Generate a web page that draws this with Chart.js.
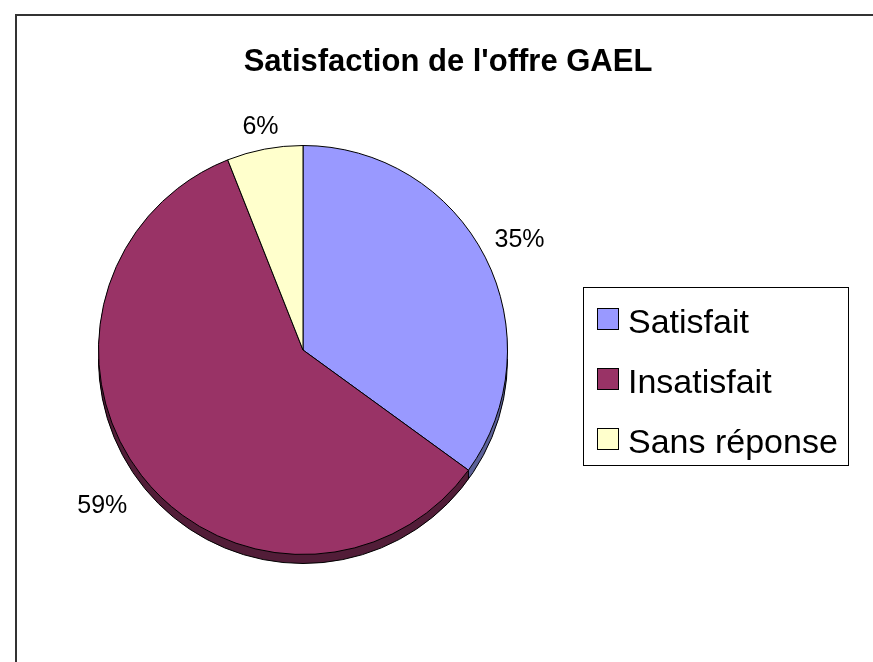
<!DOCTYPE html>
<html>
<head>
<meta charset="utf-8">
<script src="https://cdn.jsdelivr.net/npm/chart.js@4/dist/chart.umd.min.js"></script>
<style>
    html, body { margin: 0; padding: 0; background: #fff; }
    #wrap { width: 873px; height: 662px; }
</style>
</head>
<body>
<div id="wrap"><canvas id="pieChart" width="873" height="662"></canvas></div>
<script>
// data
const categories = ['Satisfait', 'Insatisfait', 'Sans réponse'];
const values = [35, 59, 6];
const percentLabels = ['35%', '59%', '6%'];
const chartTitle = "Satisfaction de l'offre GAEL";

// styles
const fillColors = ['#9999FF', '#993366', '#FFFFCC'];
const sideColors = ['#5c6199', '#521d38', '#99997a'];
const labelDist = [243, 254, 227];
const depth = 9;
const fontFamily = "'Liberation Sans', Arial, sans-serif";

// fake 3D rim under the pie
const pieDepth = {
    id: 'pieDepth',
    beforeDatasetsDraw(chart) {
        const c = chart.ctx;
        const arcs = chart.getDatasetMeta(0).data;
        c.save();
        let cx, cy, r;
        arcs.forEach((arc, i) => {
            const p = arc.getProps(['x', 'y', 'startAngle', 'endAngle', 'outerRadius'], true);
            cx = p.x; cy = p.y; r = p.outerRadius;
            c.fillStyle = sideColors[i];
            for (let d = 1; d <= depth; d++) {
                c.beginPath();
                c.moveTo(p.x, p.y + d);
                c.arc(p.x, p.y + d, p.outerRadius, p.startAngle, p.endAngle);
                c.closePath();
                c.fill();
            }
        });
        c.strokeStyle = '#000';
        c.lineWidth = 1;
        c.beginPath();
        c.arc(cx, cy + depth, r, 0, Math.PI);
        c.stroke();
        // slice edges on the visible side
        arcs.forEach(arc => {
            const p = arc.getProps(['startAngle'], true);
            const a = p.startAngle;
            if (Math.sin(a) > 0.05) {
                const ex = cx + Math.cos(a) * r;
                const ey = cy + Math.sin(a) * r;
                c.beginPath();
                c.moveTo(ex, ey);
                c.lineTo(ex, ey + depth);
                c.stroke();
            }
        });
        c.restore();
    }
};

// title, frame, legend and percentage labels
const decorations = {
    id: 'decorations',
    beforeDraw(chart) {
        const c = chart.ctx;
        c.save();
        c.strokeStyle = '#333';
        c.lineWidth = 2;
        c.strokeRect(16, 15, 900, 700);
        c.restore();
    },
    afterDatasetsDraw(chart) {
        const c = chart.ctx;
        const arcs = chart.getDatasetMeta(0).data;
        c.save();
        c.fillStyle = '#000';
        c.font = '25px ' + fontFamily;
        c.textAlign = 'center';
        c.textBaseline = 'middle';
        arcs.forEach((arc, i) => {
            const p = arc.getProps(['x', 'y', 'startAngle', 'endAngle'], true);
            const mid = (p.startAngle + p.endAngle) / 2;
            c.fillText(percentLabels[i], p.x + Math.cos(mid) * labelDist[i], p.y + Math.sin(mid) * labelDist[i]);
        });
        c.restore();
    },
    afterDraw(chart) {
        const c = chart.ctx;
        c.save();
        c.fillStyle = '#000';
        c.font = 'bold 31px ' + fontFamily;
        c.textAlign = 'center';
        c.textBaseline = 'alphabetic';
        c.fillText(chartTitle, 448, 71);

        // legend box
        c.strokeStyle = '#000';
        c.lineWidth = 1;
        c.strokeRect(583.5, 287.5, 265, 178);
        c.font = '34px ' + fontFamily;
        c.textAlign = 'left';
        categories.forEach((cat, i) => {
            const top = 308 + i * 60;
            c.fillStyle = fillColors[i];
            c.fillRect(597, top, 22, 22);
            c.strokeRect(597.5, top + 0.5, 21, 21);
            c.fillStyle = '#000';
            c.fillText(cat, 628, top + 25);
        });
        c.restore();
    }
};

const ctx = document.getElementById('pieChart').getContext('2d');
const chart = new Chart(ctx, {
    type: 'pie',
    data: {
        labels: categories,
        datasets: [{
            data: values,
            backgroundColor: fillColors,
            borderColor: '#000',
            borderWidth: 1
        }]
    },
    options: {
        responsive: false,
        animation: false,
        layout: {
            padding: { left: 98, right: 365, top: 145, bottom: 107 }
        },
        plugins: {
            legend: { display: false },
            tooltip: { enabled: false },
            title: { display: false }
        }
    },
    plugins: [pieDepth, decorations]
});
</script>
</body>
</html>
